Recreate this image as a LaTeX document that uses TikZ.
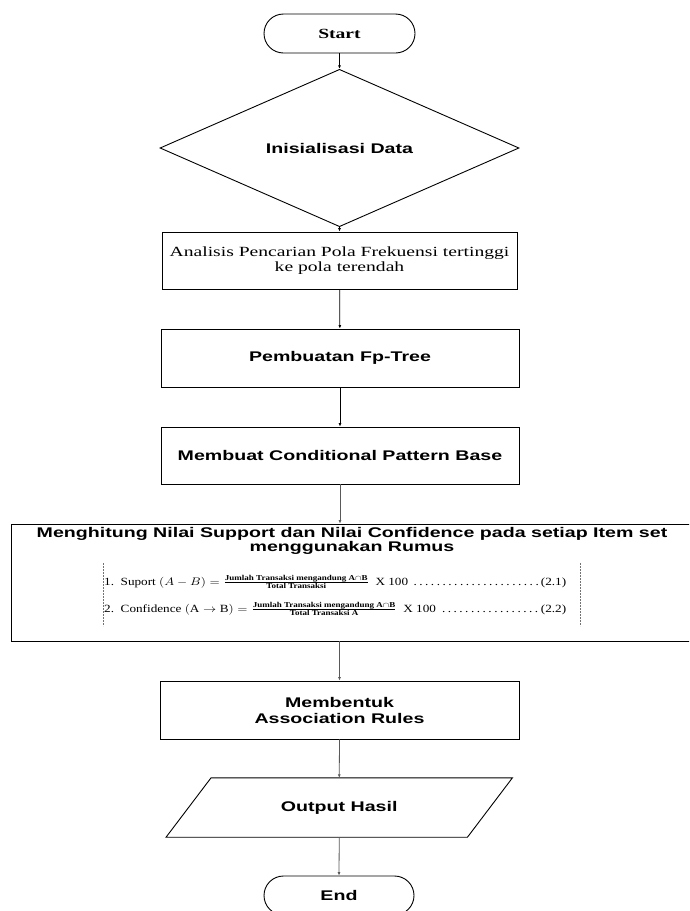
\documentclass[tikz,border=0pt]{standalone}
\usepackage{amsmath}
\usepackage{fontspec}
\usepackage{graphicx}
\setmainfont{Liberation Serif}
\newfontfamily\arialw{Liberation Sans}[FakeStretch=1.4]
\newfontfamily\timesw{Liberation Serif}[FakeStretch=1.4]
\usetikzlibrary{shapes.geometric,arrows.meta}
\newcommand{\fracfont}{\fontsize{7.5}{8}\selectfont\bfseries}
\tikzset{
  box/.style={draw, line width=0.9pt, rectangle, inner sep=2pt},
  term/.style={draw, line width=0.9pt, rounded corners=19.5pt, minimum width=151pt, minimum height=39pt, inner sep=0pt},
  sanslab/.style={font=\arialw\bfseries\fontsize{14}{16}\selectfont, align=center},
  conn/.style={line width=0.8pt, -{Latex[length=3.5pt,width=3pt]}},
  gconn/.style={conn, draw=black!65},
  formula/.style={anchor=west, inner sep=0pt}
}
\begin{document}
\begin{tikzpicture}[x=1pt,y=-1pt]
\useasboundingbox (0,0) rectangle (689,911);
\clip (0,0) rectangle (689,911);
\fill[white] (0,0) rectangle (689,911);

\node[term, font=\timesw\bfseries\fontsize{14}{16}\selectfont] (start) at (339.5,33.5) {Start};
\node[draw, line width=0.9pt, diamond, minimum width=359pt, minimum height=86pt, inner sep=0pt, sanslab] (init) at (339.5,148) {Inisialisasi Data};
\node[box, minimum width=355pt, minimum height=57pt, align=center, font=\timesw\fontsize{14}{15}\selectfont] (ana) at (339.5,260.5) {Analisis Pencarian Pola Frekuensi tertinggi\\ke pola terendah};
\node[box, minimum width=358pt, minimum height=58pt, sanslab] (fp) at (340,358) {Pembuatan Fp-Tree};
\node[box, minimum width=358pt, minimum height=57pt, sanslab] (cpb) at (340,455.5) {Membuat Conditional Pattern Base};
\node[box, minimum width=682pt, minimum height=117pt] (calc) at (352,582.5) {};
\node[sanslab, anchor=north, inner sep=0pt, font=\arialw\bfseries\fontsize{14}{14}\selectfont] (title) at (352,527) {Menghitung Nilai Support dan Nilai Confidence pada setiap Item set\\menggunakan Rumus};
\node[formula] (f1) at (104,582) {\scalebox{1.2}[1]{\hbox to 385pt{\fontsize{11}{13}\selectfont 1.\ \ Suport $(A-B)=\frac{\text{\fracfont Jumlah Transaksi mengandung A$\cap$B}}{\text{\fracfont Total Transaksi}}$\ \ X 100 \dotfill(2.1)}}};
\node[formula] (f2) at (104,609) {\scalebox{1.2}[1]{\hbox to 385pt{\fontsize{11}{13}\selectfont 2.\ \ Confidence $(\mathrm{A}\rightarrow\mathrm{B})=\frac{\text{\fracfont Jumlah Transaksi mengandung A$\cap$B}}{\text{\fracfont Total Transaksi A}}$\ \ X 100 \dotfill(2.2)}}};
\coordinate (dl1) at (103,563);
\coordinate (dl2) at (103,626);
\coordinate (dr1) at (580,563);
\coordinate (dr2) at (580,626);
\draw[black!55, line width=0.6pt, dash pattern=on 2pt off 1pt] (dl1) -- (dl2);
\draw[black!55, line width=0.6pt, dash pattern=on 2pt off 1pt] (dr1) -- (dr2);
\node[box, minimum width=359pt, minimum height=58pt, sanslab] (rules) at (339.5,710) {Membentuk\\Association Rules};
\node[minimum width=301pt, minimum height=59pt, inner sep=0pt, sanslab] (out) at (339.25,807.5) {Output Hasil};
\draw[line width=0.9pt] ([xshift=22.5pt]out.north west) -- ([xshift=22.5pt]out.north east) -- ([xshift=-22.5pt]out.south east) -- ([xshift=-22.5pt]out.south west) -- cycle;
\node[term, minimum width=150pt, sanslab] (end) at (339,895.5) {End};

\draw[conn] (start) -- (init);
\draw[conn] (init) -- (ana);
\draw[conn] (ana) -- (fp);
\draw[conn] (fp) -- (cpb);
\draw[gconn] (cpb.south) -- (cpb.south |- calc.north);
\draw[gconn] (calc.south -| rules.north) -- (rules.north);
\draw[gconn] (rules.south) -- (out.north);
\draw[gconn] (out.south) -- (end.north);
\end{tikzpicture}
\end{document}
